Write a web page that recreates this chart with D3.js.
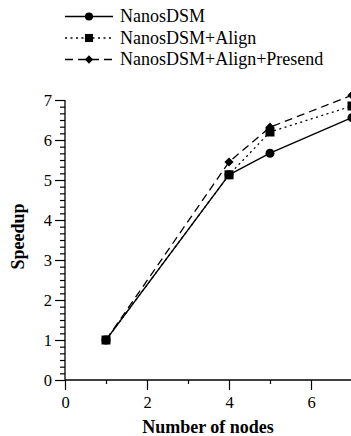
<!DOCTYPE html>
<html><head><meta charset="utf-8">
<script src="https://cdn.jsdelivr.net/npm/d3@7"></script>
<style>
html,body{margin:0;padding:0;background:#fff;}
svg{display:block;}
text{font-family:"Liberation Serif","Times New Roman",serif;fill:#000;}
</style></head>
<body>
<script>
const nodes = [1, 4, 5, 7];
const seriesNames = ["NanosDSM", "NanosDSM+Align", "NanosDSM+Align+Presend"];
const nanosDSM = [1, 5.13, 5.67, 6.56];
const nanosAlign = [1, 5.13, 6.2, 6.85];
const nanosPresend = [1, 5.45, 6.32, 7.12];
const xTicks = [0, 2, 4, 6];
const xMinorTicks = [1, 3, 5];
const yTicks = [0, 1, 2, 3, 4, 5, 6, 7];

const W = 351, H = 436;
const svg = d3.select("body").append("svg").attr("width", W).attr("height", H);

const x = d3.scaleLinear().domain([0, 7]).range([65, 352]);
const y = d3.scaleLinear().domain([0, 7]).range([380, 100]);

const yMinor = [];
for (let i = 0; i < 7; i++) for (let k = 1; k < 6; k++) yMinor.push(i + k / 6);

// axes
const gx = svg.append("g").attr("transform", `translate(0,${y(0)})`)
  .call(d3.axisBottom(x).tickValues(xTicks).tickSize(10).tickPadding(6).tickFormat(d3.format("d")));
const gxm = svg.append("g").attr("transform", `translate(0,${y(0)})`)
  .call(d3.axisBottom(x).tickValues(xMinorTicks).tickSize(4).tickFormat(""));
const gy = svg.append("g").attr("transform", `translate(${x(0)},0)`)
  .call(d3.axisLeft(y).tickValues(yTicks).tickSize(10).tickPadding(3).tickFormat(d3.format("d")));
const gym = svg.append("g").attr("transform", `translate(${x(0)},0)`)
  .call(d3.axisLeft(y).tickValues(yMinor).tickSize(5).tickFormat(""));
[gx, gxm, gy, gym].forEach(g => {
  g.select(".domain").attr("stroke", "#000").attr("stroke-width", 1.3);
  g.selectAll(".tick line").attr("stroke", "#000").attr("stroke-width", 1.2);
  g.selectAll("text").attr("font-size", 16.5).attr("font-family", "Liberation Serif").attr("fill", "#000");
});
gxm.select(".domain").remove();
gym.select(".domain").remove();
gx.select(".domain").attr("d", `M${x(0)},0H${W + 5}`);
gy.select(".domain").attr("d", `M0,${y(0)}V${y(7)}`);

// axis titles
svg.append("text").attr("x", 208).attr("y", 433).attr("text-anchor", "middle")
  .attr("font-size", 18).attr("font-weight", "bold").text("Number of nodes");
svg.append("text").attr("transform", "translate(24,236.5) rotate(-90)").attr("text-anchor", "middle")
  .attr("font-size", 18).attr("font-weight", "bold").text("Speedup");

const series = [
  {name: seriesNames[0], vals: nanosDSM, dash: null, marker: "circle"},
  {name: seriesNames[1], vals: nanosAlign, dash: "2,3.5", marker: "square"},
  {name: seriesNames[2], vals: nanosPresend, dash: "8,5", marker: "diamond"}
];

function drawMarker(g, type, cx, cy, s) {
  if (type === "circle") g.append("circle").attr("cx", cx).attr("cy", cy).attr("r", 4.5 * s).attr("fill", "#000");
  else if (type === "square") g.append("rect").attr("x", cx - 4.5 * s).attr("y", cy - 4.5 * s)
    .attr("width", 9 * s).attr("height", 9 * s).attr("fill", "#000");
  else {
    const r = 4.6 * s;
    g.append("path").attr("d", `M${cx},${cy - r}L${cx + r},${cy}L${cx},${cy + r}L${cx - r},${cy}Z`).attr("fill", "#000");
  }
}

const line = d3.line().x(d => x(d[0])).y(d => y(d[1]));
const plot = svg.append("g");
series.slice().reverse().forEach(s => {
  const pts = nodes.map((n, i) => [n, s.vals[i]]);
  plot.append("path").attr("d", line(pts)).attr("fill", "none").attr("stroke", "#000")
    .attr("stroke-width", 1.3).attr("stroke-dasharray", s.dash);
  pts.forEach(p => drawMarker(plot, s.marker, x(p[0]), y(p[1]), 1));
});

// legend
const legY = [16.5, 38, 59.5];
const leg = svg.append("g");
series.forEach((s, i) => {
  leg.append("line").attr("x1", 65).attr("x2", 113).attr("y1", legY[i]).attr("y2", legY[i])
    .attr("stroke", "#000").attr("stroke-width", 1.3).attr("stroke-dasharray", s.dash);
  drawMarker(leg, s.marker, 89, legY[i], 0.9);
  leg.append("text").attr("x", 120).attr("y", legY[i]).attr("dy", "0.33em")
    .attr("font-size", 18).text(s.name);
});
</script>
</body></html>
